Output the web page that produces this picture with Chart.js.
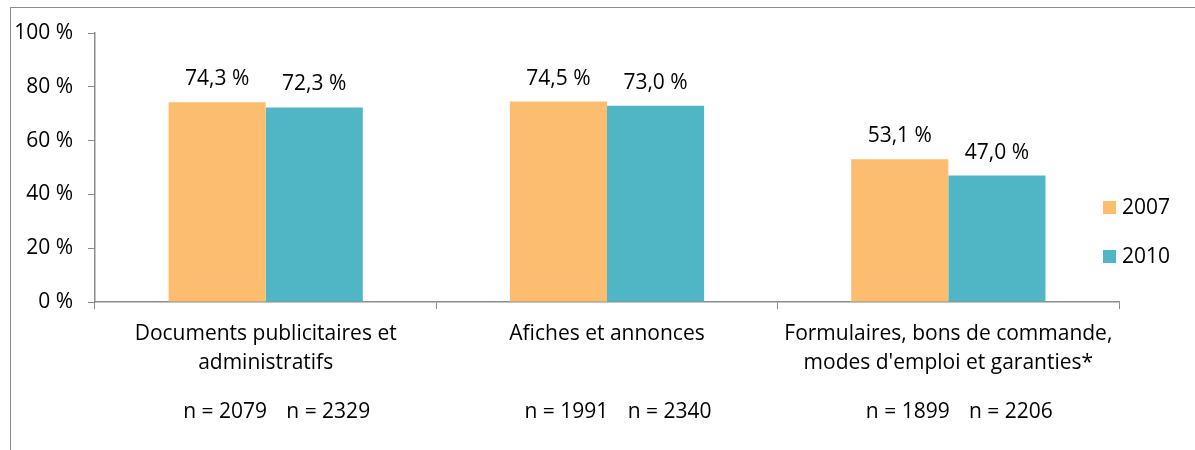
<!DOCTYPE html>
<html>
<head>
<meta charset="utf-8">
<script src="https://cdn.jsdelivr.net/npm/chart.js@4/dist/chart.umd.min.js"></script>
<style>
  html, body { margin: 0; padding: 0; background: #fff; }
  #wrap { position: relative; width: 1195px; height: 450px; }
  #frame { position: absolute; left: 10px; top: 7px; width: 1200px; height: 460px;
           border-left: 1px solid #8c8c8c; border-top: 1px solid #8c8c8c; }
  canvas { position: absolute; left: 0; top: 0; }
</style>
</head>
<body>
<div id="wrap">
  <div id="frame"></div>
  <canvas id="chart" width="1195" height="450"></canvas>
</div>
<script>
const categories = [
  ['Documents publicitaires et', 'administratifs'],
  ['Afiches et annonces'],
  ['Formulaires, bons de commande,', "modes d'emploi et garanties*"]
];
const years = ['2007', '2010'];
const values2007 = [74.3, 74.5, 53.1];
const values2010 = [72.3, 73.0, 47.0];
const n2007 = [2079, 1991, 1899];
const n2010 = [2329, 2340, 2206];
const yTicks = [0, 20, 40, 60, 80, 100];

const FONT = "'Open Sans', sans-serif";
const SIZE = 21;
const fmt = v => v.toFixed(1).replace('.', ',') + ' %';

// Value labels above each bar
const barLabels = {
  id: 'barLabels',
  afterDatasetsDraw(chart) {
    const ctx = chart.ctx;
    ctx.save();
    ctx.font = SIZE + 'px ' + FONT;
    ctx.fillStyle = '#000';
    ctx.textAlign = 'center';
    ctx.textBaseline = 'middle';
    chart.data.datasets.forEach((ds, i) => {
      chart.getDatasetMeta(i).data.forEach((bar, j) => {
        ctx.fillText(fmt(ds.data[j]), bar.x, bar.y - 23);
      });
    });
    ctx.restore();
  }
};

// Sample sizes under the category labels
const sampleLabels = {
  id: 'sampleLabels',
  afterDraw(chart) {
    const ctx = chart.ctx;
    const ns = [n2007, n2010];
    const shift = [8, 14];
    ctx.save();
    ctx.font = SIZE + 'px ' + FONT;
    ctx.fillStyle = '#000';
    ctx.textAlign = 'center';
    ctx.textBaseline = 'middle';
    ns.forEach((arr, i) => {
      chart.getDatasetMeta(i).data.forEach((bar, j) => {
        ctx.fillText('n = ' + arr[j], bar.x + shift[i], 412);
      });
    });
    ctx.restore();
  }
};

// Legend drawn at the right, overlapping the plot edge like the original
const sideLegend = {
  id: 'sideLegend',
  afterDraw(chart) {
    const ctx = chart.ctx;
    const x = chart.chartArea.right - 16;
    ctx.save();
    ctx.font = SIZE + 'px ' + FONT;
    ctx.textBaseline = 'middle';
    ctx.textAlign = 'left';
    chart.data.datasets.forEach((ds, i) => {
      const y = 208 + i * 49;
      ctx.fillStyle = ds.backgroundColor;
      ctx.fillRect(x, y - 7, 13, 13);
      ctx.fillStyle = '#000';
      ctx.fillText(ds.label, x + 19, y);
    });
    ctx.restore();
  }
};

new Chart(document.getElementById('chart'), {
  type: 'bar',
  data: {
    labels: categories,
    datasets: [
      { label: years[0], data: values2007, backgroundColor: '#FCBE6E' },
      { label: years[1], data: values2010, backgroundColor: '#50B5C4' }
    ]
  },
  options: {
    responsive: false,
    animation: false,
    layout: { padding: { left: 10, top: 33, right: 76, bottom: 0 } },
    datasets: { bar: { categoryPercentage: 0.569, barPercentage: 1 } },
    scales: {
      x: {
        grid: { offset: true, drawOnChartArea: false, color: '#8c8c8c', tickLength: 7, tickColor: '#8c8c8c' },
        border: { color: '#8c8c8c', width: 1.5 },
        ticks: { color: '#000', font: { family: FONT, size: SIZE, lineHeight: 1.38 }, padding: 11, maxRotation: 0, autoSkip: false },
        afterFit(scale) { scale.height = 148; }
      },
      y: {
        min: 0, max: 100,
        afterBuildTicks(scale) { scale.ticks = yTicks.map(v => ({ value: v })); },
        grid: { drawOnChartArea: false, color: '#8c8c8c', tickLength: 7, tickColor: '#8c8c8c' },
        border: { color: '#8c8c8c', width: 1.5 },
        ticks: { color: '#000', font: { family: FONT, size: SIZE }, padding: 15, callback: v => v + ' %' },
        afterFit(scale) { scale.width = 85; }
      }
    },
    plugins: {
      legend: { display: false },
      tooltip: { enabled: false }
    }
  },
  plugins: [barLabels, sampleLabels, sideLegend]
});
</script>
</body>
</html>
